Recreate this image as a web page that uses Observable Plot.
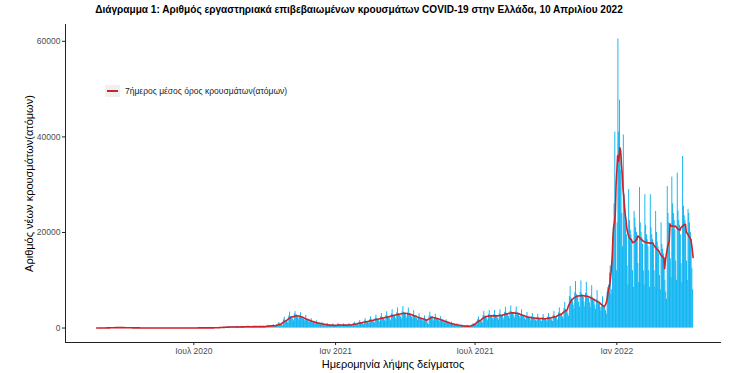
<!DOCTYPE html>
<html><head><meta charset="utf-8">
<script src="https://cdn.jsdelivr.net/npm/d3@7"></script>
<script src="https://cdn.jsdelivr.net/npm/@observablehq/plot@0.6"></script>
<style>
body{margin:0;background:#fff;font-family:"Liberation Sans",Arial,sans-serif;}
#wrap{position:relative;width:734px;height:373px;overflow:hidden;}
#title{height:20px;position:relative;}
#title span{position:absolute;top:4px;white-space:nowrap;font-weight:bold;font-size:10.1px;line-height:12px;color:#000;}
#legend{position:absolute;left:105px;top:84px;height:13px;display:flex;align-items:center;font-size:8.5px;color:#1a1a1a;}
#legend .key{width:15px;height:12px;background:#f0f0f0;position:relative;margin-right:5px;}
#legend .key::after{content:"";position:absolute;left:2px;right:2px;top:5px;height:2px;background:#cc2229;}
</style></head><body>
<div id="wrap">
<div id="title"><span id="titleText"></span></div>
<div id="chart"></div>
<div id="legend"><div class="key"></div><span id="legendText"></span></div>
</div>
<script>
const titleText = "Διάγραμμα 1: Αριθμός εργαστηριακά επιβεβαιωμένων κρουσμάτων COVID-19 στην Ελλάδα, 10 Απριλίου 2022";
const legendLabel = "7ήμερος μέσος όρος κρουσμάτων(ατόμων)";
const xTitle = "Ημερομηνία λήψης δείγματος";
const yTitle = "Αριθμός νέων κρουσμάτων(ατόμων)";
const startDate = "2020-02-26";

// daily confirmed cases by sample date, 26 Feb 2020 - 31 Dec 2020
const cases2020 = [
  1,2,1,3,
  2,1,3,2,9,12,8,10,22,25,35,38,40,42,35,60,70,80,85,80,70,60,95,100,90,85,80,70,55,90,95,
  90,85,80,70,60,55,70,75,60,50,45,40,35,45,40,35,30,55,60,50,30,25,20,18,15,12,20,22,18,15,
  12,15,10,8,12,14,10,9,8,12,15,10,8,11,13,9,8,10,12,15,10,9,8,7,10,12,8,9,11,10,8,
  10,12,15,10,8,9,14,12,10,20,15,12,10,18,20,25,15,12,14,20,22,18,15,25,20,18,22,15,20,18,
  20,25,18,22,30,28,25,20,30,35,28,25,30,22,25,28,35,30,25,40,45,38,30,35,40,50,55,45,40,50,60,
  70,80,75,90,100,110,120,130,150,160,140,170,180,200,190,210,220,230,240,210,200,220,250,260,240,230,220,250,260,230,210,
  220,250,260,240,230,250,280,300,320,310,290,270,250,260,240,300,320,330,310,280,260,250,280,300,320,340,310,280,260,290,
  350,330,260,200,460,570,460,440,420,340,250,550,680,550,520,500,400,300,880,1160,840,800,760,640,520,1700,2250,1630,1550,1470,1240,
  1010,2530,3340,2420,2300,2190,1840,1500,2920,3450,2780,2650,2520,2120,1720,2530,3200,2420,2300,2190,1840,1500,1980,2610,1890,1800,1710,1440,1170,1490,
  1960,1420,1350,1280,1080,880,1160,1520,1100,1050,1000,840,680,880,1160,840,800,760,640,520,720,940,680,700,400,480,420,660,870,630,500
];
// 2021
const cases2021 = [
  400,440,360,720,940,680,650,620,520,420,660,870,630,600,570,480,390,720,940,680,650,620,520,420,940,1230,890,850,810,680,550,
  1210,1600,1160,1100,1050,880,720,1490,1960,1420,1350,1280,1080,880,1760,2320,1680,1600,1520,1280,1040,2040,2680,1940,1850,1760,1480,1200,
  2310,3050,2210,2100,2000,1680,1370,2590,3410,2470,2350,2230,1880,1530,2920,3840,2780,2650,2520,2120,1720,3190,4200,3050,2900,2760,2320,1890,3410,4500,3260,
  3100,2950,2480,2020,3190,4210,3050,2900,2760,2320,1890,2750,3630,2630,2500,2380,2000,1630,2260,2970,2150,2050,1950,1640,1330,1930,2540,1840,1750,1500,
  1000,700,2530,3340,2420,2300,2190,1840,1500,2200,2900,2100,2000,1900,1600,1300,1820,2390,1730,1650,1570,1320,1070,1320,1740,1260,1200,1140,960,780,940,
  1230,890,850,810,680,550,660,870,630,600,570,480,390,460,610,440,420,400,340,270,420,550,400,380,360,300,250,650,900,700,
  900,950,800,600,1760,2320,1680,1600,1520,1280,1040,2640,3480,2520,2400,2280,1920,1560,2800,3700,2680,2550,2420,2040,1660,2800,3700,2680,2550,2420,2040,
  1660,2920,3840,2780,2650,2520,2120,1720,3300,4350,3150,3000,2850,2400,1950,3520,4640,3360,3200,3040,2560,2080,3360,4420,3200,3050,2900,2440,1980,2920,3840,
  2730,2600,2470,2080,1690,2480,3260,2360,2250,2140,1800,1460,2310,3050,2210,2100,2000,1680,1370,2200,2900,2100,2000,1900,1600,1300,2150,2830,2050,1950,
  1850,1560,1270,2310,3050,2210,2100,2000,1680,1370,2640,3480,2520,2400,2280,1920,1560,3190,4210,3050,2900,2760,2320,1890,4070,5370,3890,3700,3520,2960,2410,
  6600,8700,6300,6000,5700,4800,3900,7370,9720,7040,6700,6370,5360,4360,7480,9860,7140,6800,6460,5440,4420,7260,9570,6930,6600,6270,5280,4290,6710,8850,
  6300,6000,5700,4800,3900,5940,7830,5670,5400,5130,4320,3510,4950,6530,4730,4500,4280,3600,2930,7500,8500,9000,11500,13000,7000,8000,19000,21000,26000,41000,28000
];
// 1 Jan 2022 - 10 Apr 2022
const cases2022 = [
  12000,22000,60500,41000,47700,33000,36000,24000,17000,40400,28000,25000,22000,19500,13000,9000,29000,22500,20500,19500,17500,12000,8500,24400,23000,21000,20000,18500,13500,9500,29400,
  22000,20000,19000,17500,12000,9000,27900,21500,19500,18500,17000,12000,8500,27900,21000,19500,18500,17000,12000,8500,24400,20000,18000,17000,15500,11000,8000,22000,
  17500,16500,15500,14000,10000,7500,6000,29600,24000,22000,20500,14500,10500,31600,26000,24000,22500,20500,14000,10000,32400,24500,22500,21500,19500,13500,9500,35900,25500,23500,22500,
  20500,14000,10000,24800,24000,22000,20000,18500,12500,8000
];
const tickDates = ["2020-07-01","2021-01-01","2021-07-01","2022-01-01"];
const tickLabels = ["Ιουλ 2020","Ιαν 2021","Ιουλ 2021","Ιαν 2022"];
const yTicks = [0, 20000, 40000, 60000];

const tEl = document.getElementById("titleText");
tEl.textContent = titleText;
tEl.style.left = (359 - tEl.getBoundingClientRect().width / 2) + "px";
document.getElementById("legendText").textContent = legendLabel;

const allCases = cases2020.concat(cases2021, cases2022);
const t0 = new Date(startDate + "T00:00:00Z");
const data = allCases.map((v, i) => {
  const d = d3.utcDay.offset(t0, i);
  return {date: d, x1: d3.utcHour.offset(d, -14), x2: d3.utcHour.offset(d, 14), cases: v};
});
const tickDateObjs = tickDates.map(s => new Date(s + "T00:00:00Z"));

const chart = Plot.plot({
  width: 734,
  height: 353,
  marginLeft: 65,
  marginRight: 14,
  marginTop: 4,
  marginBottom: 31,
  style: {fontFamily: "'Liberation Sans', Arial, sans-serif", fontSize: "8.5px", background: "white", color: "#222"},
  x: {
    type: "utc",
    domain: [new Date("2020-01-16T12:00:00Z"), new Date("2022-05-15T12:00:00Z")],
    ticks: tickDateObjs,
    tickFormat: d => tickLabels[tickDateObjs.findIndex(t => +t === +d)],
    tickSize: 3,
    tickPadding: 2,
    line: true,
    label: null
  },
  y: {
    domain: [-3025, 63525],
    ticks: yTicks,
    tickFormat: d3.format("d"),
    tickSize: 3,
    tickPadding: 2,
    line: true,
    label: null
  },
  marks: [
    Plot.rectY(data, {x1: "x1", x2: "x2", y: "cases", fill: "#00b0f0"}),
    Plot.lineY(data, Plot.windowY({k: 7, anchor: "middle", strict: false}, {x: "date", y: "cases", stroke: "#cc2229", strokeWidth: 1.6})),
    Plot.text([xTitle], {frameAnchor: "bottom", dy: 25, fontSize: 11, fill: "#000"}),
    Plot.text([yTitle], {frameAnchor: "left", textAnchor: "middle", dx: -36, rotate: -90, fontSize: 11, fill: "#000"})
  ]
});
document.getElementById("chart").appendChild(chart);
d3.select(chart).selectAll("g[aria-label^='x-axis'] text, g[aria-label^='y-axis'] text").attr("fill", "#4d4d4d");
</script>
</body></html>
